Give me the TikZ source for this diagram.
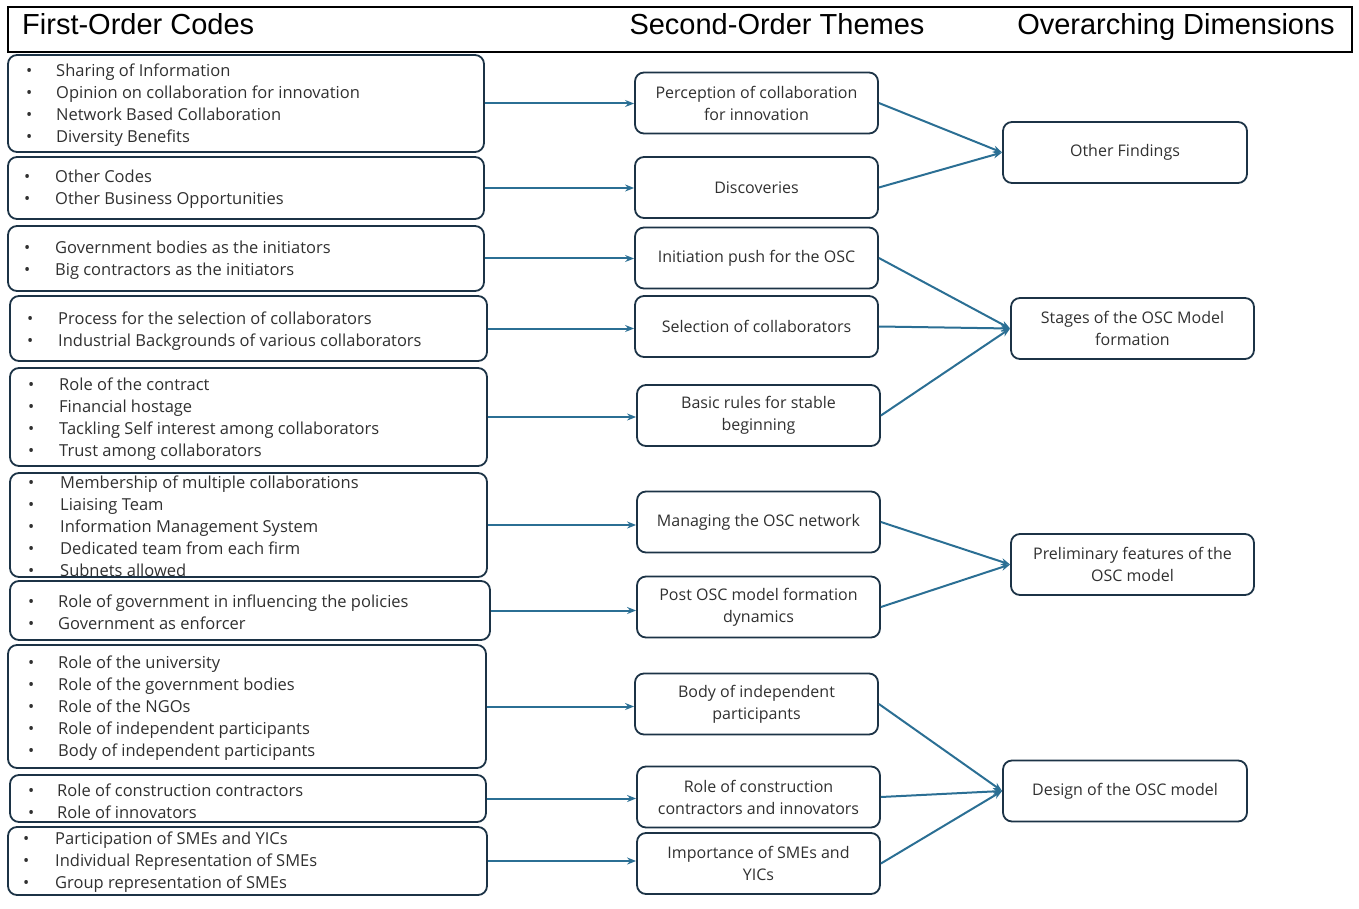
\documentclass[tikz,border=0pt]{standalone}
\usepackage{fontspec}
\setmainfont{Open Sans}
\newfontfamily\hdfont{Liberation Sans}
\usetikzlibrary{arrows.meta}
\definecolor{bord}{HTML}{1C3346}
\definecolor{arr}{HTML}{2B6F94}
\definecolor{txt}{HTML}{303030}
\newcommand\bl[1][30]{\makebox[#1pt][l]{\textbullet}}
\tikzset{
  box/.style={draw=bord, line width=1.8pt, rounded corners=9pt, inner sep=0pt},
  lbox/.style={box},
  mbox/.style={box, minimum width=243pt, minimum height=61pt, align=center,
     text=txt, font=\fontsize{16}{22}\selectfont},
  lst/.style={anchor=west, align=left, inner sep=0pt, text=txt,
     font=\fontsize{16.5}{22}\selectfont},
  conn/.style={draw=arr, line width=2pt, -{Stealth[length=9pt,width=7pt]}},
  hd/.style={font=\hdfont\fontsize{29}{33}\selectfont, inner sep=0pt}
}
\begin{document}
\begin{tikzpicture}[x=1pt,y=-1pt]
\useasboundingbox (0,0) rectangle (1359,909);
% header
\node[draw=black, line width=2pt, minimum width=1344pt, minimum height=45pt, inner sep=0pt] (hdr) at (680,29.5) {};
\node[hd, anchor=base west] (h1) at (22,35) {First-Order Codes};
\node[hd, anchor=base] (h2) at (777,35) {Second-Order Themes};
\node[hd, anchor=base] (h3) at (1176,35) {Overarching Dimensions};
% left boxes
\node[lbox, minimum width=476pt, minimum height=97pt] (L1) at (246,103.5) {};
\node[lbox, minimum width=476pt, minimum height=62pt] (L2) at (246,188) {};
\node[lbox, minimum width=476pt, minimum height=65pt] (L3) at (246,258.5) {};
\node[lbox, minimum width=477pt, minimum height=65pt] (L4) at (248.5,328.5) {};
\node[lbox, minimum width=477pt, minimum height=98pt] (L5) at (248.5,417) {};
\node[lbox, minimum width=477pt, minimum height=104pt] (L6) at (248.5,525) {};
\node[lbox, minimum width=480pt, minimum height=59pt] (L7) at (250,610.5) {};
\node[lbox, minimum width=478pt, minimum height=123pt] (L8) at (247,706.5) {};
\node[lbox, minimum width=476pt, minimum height=47pt] (L9) at (248,798.5) {};
\node[lbox, minimum width=479pt, minimum height=68pt] (L10) at (247.5,861) {};
% list texts
\node[lst] (T1) at (26,105) {\bl Sharing of Information\\\bl Opinion on collaboration for innovation\\\bl Network Based Collaboration\\\bl Diversity Benefits};
\node[lst] (T2) at (24,189) {\bl[31]Other Codes\\\bl[31]Other Business Opportunities};
\node[lst] (T3) at (24,260) {\bl[31]Government bodies as the initiators\\\bl[31]Big contractors as the initiators};
\node[lst] (T4) at (27,331) {\bl[31]Process for the selection of collaborators\\\bl[31]Industrial Backgrounds of various collaborators};
\node[lst] (T5) at (28,419) {\bl[31]Role of the contract\\\bl[31]Financial hostage\\\bl[31]Tackling Self interest among collaborators\\\bl[31]Trust among collaborators};
\node[lst] (T6) at (28,526) {\bl[32]Membership of multiple collaborations\\\bl[32]Liaising Team\\\bl[32]Information Management System\\\bl[32]Dedicated team from each firm\\\bl[32]Subnets allowed};
\node[lst] (T7) at (28,612) {\bl[30]Role of government in influencing the policies\\\bl[30]Government as enforcer};
\node[lst] (T8) at (28,708) {\bl[30]Role of the university\\\bl[30]Role of the government bodies\\\bl[30]Role of the NGOs\\\bl[30]Role of independent participants\\\bl[30]Body of independent participants};
\node[lst] (T9) at (28,801) {\bl[29]Role of construction contractors\\\bl[29]Role of innovators};
\node[lst] (T10) at (23,862.5) {\bl[32]Participation of SMEs and YICs\\\bl[32]Individual Representation of SMEs\\\bl[32]Group representation of SMEs};
% middle boxes
\node[mbox] (M1) at (756.5,103) {Perception of collaboration\\for innovation};
\node[mbox] (M2) at (756.5,187.5) {Discoveries};
\node[mbox] (M3) at (756.5,258) {Initiation push for the OSC};
\node[mbox] (M4) at (756.5,326.5) {Selection of collaborators};
\node[mbox] (M5) at (758.5,415.5) {Basic rules for stable\\beginning};
\node[mbox] (M6) at (758.5,522) {Managing the OSC network};
\node[mbox] (M7) at (758.5,607) {Post OSC model formation\\dynamics};
\node[mbox] (M8) at (756.5,704) {Body of independent\\participants};
\node[mbox] (M9) at (758.5,797) {Role of construction\\contractors and innovators};
\node[mbox] (M10) at (758.5,863.5) {Importance of SMEs and\\YICs};
% right boxes
\node[mbox, minimum width=244pt] (R1) at (1125,152.5) {Other Findings};
\node[mbox] (R2) at (1132.5,328.5) {Stages of the OSC Model\\formation};
\node[mbox] (R3) at (1132.5,564.5) {Preliminary features of the\\OSC model};
\node[mbox, minimum width=244pt] (R4) at (1125,791) {Design of the OSC model};
% connectors left -> middle
\foreach \i in {1,...,10}{
  \draw[conn] (L\i.east) -- (L\i.east -| M\i.west);
}
% connectors middle -> right
\draw[conn] (M1.east) -- (R1.west);
\draw[conn] (M2.east) -- (R1.west);
\draw[conn] (M3.east) -- (R2.west);
\draw[conn] (M4.east) -- (R2.west);
\draw[conn] (M5.east) -- (R2.west);
\draw[conn] (M6.east) -- (R3.west);
\draw[conn] (M7.east) -- (R3.west);
\draw[conn] (M8.east) -- (R4.west);
\draw[conn] (M9.east) -- (R4.west);
\draw[conn] (M10.east) -- (R4.west);
\end{tikzpicture}
\end{document}
